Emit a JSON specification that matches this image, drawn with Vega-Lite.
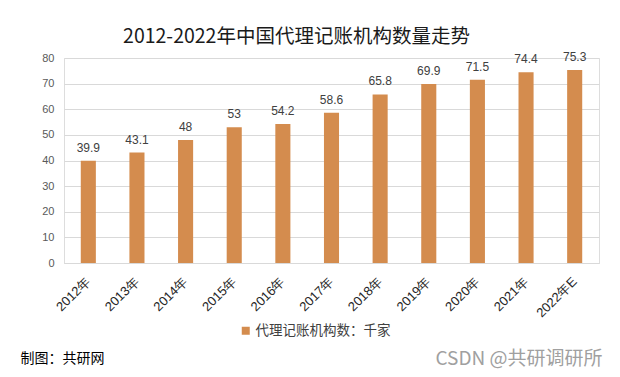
{
  "$schema": "https://vega.github.io/schema/vega-lite/v6.json",
  "width": 535,
  "height": 205,
  "autosize": {"type": "none"},
  "padding": {"left": 64, "top": 58, "right": 21, "bottom": 114},
  "background": "white",
  "title": {
    "text": "2012-2022年中国代理记账机构数量走势",
    "font": "Noto Sans CJK SC",
    "fontSize": 19.5,
    "fontWeight": "normal",
    "color": "#1a1a1a",
    "anchor": "middle",
    "dx": -35,
    "offset": 4
  },
  "data": {
    "values": [
      {"year": "2012年", "value": 39.9, "series": "代理记账机构数：千家"},
      {"year": "2013年", "value": 43.1, "series": "代理记账机构数：千家"},
      {"year": "2014年", "value": 48, "series": "代理记账机构数：千家"},
      {"year": "2015年", "value": 53, "series": "代理记账机构数：千家"},
      {"year": "2016年", "value": 54.2, "series": "代理记账机构数：千家"},
      {"year": "2017年", "value": 58.6, "series": "代理记账机构数：千家"},
      {"year": "2018年", "value": 65.8, "series": "代理记账机构数：千家"},
      {"year": "2019年", "value": 69.9, "series": "代理记账机构数：千家"},
      {"year": "2020年", "value": 71.5, "series": "代理记账机构数：千家"},
      {"year": "2021年", "value": 74.4, "series": "代理记账机构数：千家"},
      {"year": "2022年E", "value": 75.3, "series": "代理记账机构数：千家"}
    ]
  },
  "encoding": {
    "x": {
      "field": "year",
      "type": "nominal",
      "sort": null,
      "scale": {"paddingInner": 0.69, "paddingOuter": 0.345},
      "axis": {
        "title": "制图：共研网",
        "titleFont": "Noto Sans CJK SC",
        "titleFontSize": 14,
        "titleFontWeight": "normal",
        "titleColor": "#000000",
        "titleAlign": "left",
        "titleBaseline": "middle",
        "titleAngle": 0,
        "titleX": -44,
        "titleY": 95,
        "labelAngle": -45,
        "labelAlign": "right",
        "labelBaseline": "middle",
        "labelFont": "Liberation Sans",
        "labelFontSize": 13,
        "labelColor": "#262626",
        "labelPadding": 16,
        "ticks": false,
        "domain": true,
        "domainColor": "#d9d9d9"
      }
    },
    "y": {
      "field": "value",
      "type": "quantitative",
      "scale": {"domain": [0, 80], "nice": false},
      "axis": {
        "title": "CSDN @共研调研所",
        "titleFont": "Noto Sans CJK SC",
        "titleFontSize": 19,
        "titleFontWeight": "normal",
        "titleColor": "#a0a0a0",
        "titleAngle": 0,
        "titleAlign": "left",
        "titleBaseline": "middle",
        "titleX": 371,
        "titleY": 300,
        "values": [0, 10, 20, 30, 40, 50, 60, 70, 80],
        "labelFont": "Liberation Sans",
        "labelFontSize": 11,
        "labelColor": "#595959",
        "labelPadding": 10,
        "ticks": false,
        "domain": false,
        "gridColor": "#d9d9d9",
        "gridWidth": 1
      }
    }
  },
  "layer": [
    {
      "mark": {"type": "bar", "color": "#D48C4E"},
      "encoding": {
        "color": {
          "field": "series",
          "type": "nominal",
          "scale": {"range": ["#D48C4E"]},
          "legend": {
            "title": null,
            "orient": "none",
            "legendX": 175,
            "legendY": 266,
            "symbolType": "square",
            "symbolSize": 64,
            "symbolStrokeWidth": 0,
            "labelFont": "Noto Sans CJK SC",
            "labelFontSize": 13.5,
            "labelColor": "#404040",
            "labelOffset": 3
          }
        }
      }
    },
    {
      "mark": {
        "type": "text",
        "dy": -13,
        "font": "Liberation Sans",
        "fontSize": 12,
        "color": "#404040"
      },
      "encoding": {
        "text": {"field": "value", "type": "quantitative"}
      }
    }
  ]
}
